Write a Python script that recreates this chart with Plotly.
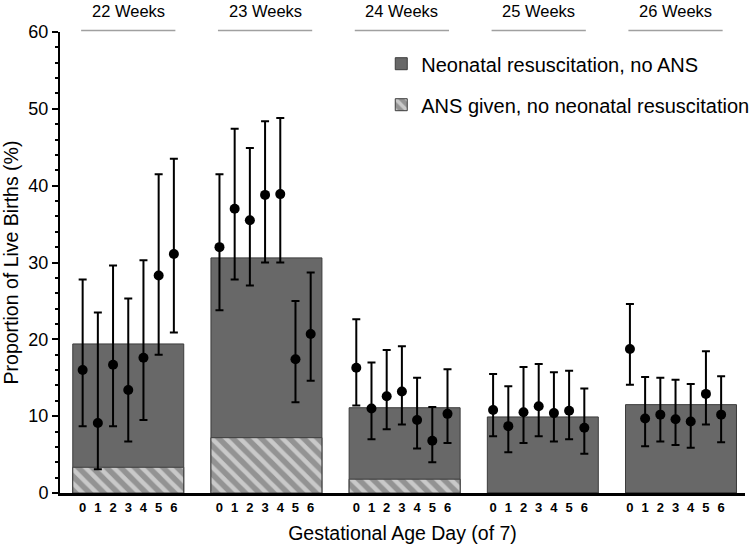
import plotly.graph_objects as go

weeks = ["22 Weeks", "23 Weeks", "24 Weeks", "25 Weeks", "26 Weeks"]
days = [0, 1, 2, 3, 4, 5, 6]

# Bar heights (%)
resus_no_ans = [19.4, 30.6, 11.1, 9.9, 11.5]
ans_no_resus = [3.35, 7.2, 1.8, 0.0, 0.0]

# Point estimates per day and 95% CI bounds (%)
point_22 = [16.0, 9.1, 16.7, 13.4, 17.6, 28.3, 31.1]
low_22 = [8.7, 3.1, 8.7, 6.7, 9.5, 18.0, 20.9]
high_22 = [27.8, 23.5, 29.6, 25.3, 30.3, 41.5, 43.5]

point_23 = [32.0, 37.0, 35.5, 38.8, 38.9, 17.4, 20.7]
low_23 = [23.8, 27.8, 27.0, 30.0, 30.0, 11.8, 14.6]
high_23 = [41.5, 47.4, 44.9, 48.4, 48.8, 25.0, 28.7]

point_24 = [16.3, 11.0, 12.6, 13.2, 9.5, 6.8, 10.3]
low_24 = [11.4, 7.0, 8.3, 8.9, 5.8, 4.0, 6.5]
high_24 = [22.6, 17.0, 18.6, 19.1, 15.0, 11.2, 16.1]

point_25 = [10.8, 8.7, 10.5, 11.3, 10.4, 10.7, 8.5]
low_25 = [7.4, 5.3, 6.5, 7.4, 6.7, 7.0, 5.1]
high_25 = [15.5, 13.9, 16.4, 16.8, 15.7, 15.9, 13.6]

point_26 = [18.75, 9.7, 10.2, 9.6, 9.3, 12.9, 10.2]
low_26 = [14.1, 6.1, 6.7, 6.25, 5.9, 8.9, 6.6]
high_26 = [24.6, 15.1, 15.0, 14.75, 14.2, 18.45, 15.2]

points = [point_22, point_23, point_24, point_25, point_26]
lows = [low_22, low_23, low_24, low_25, low_26]
highs = [high_22, high_23, high_24, high_25, high_26]

# layout constants
GROUP_STEP = 9.0
BAR_STEP = 9.09
BAR_WIDTH = 7.3
FONT = "Arial, Liberation Sans, sans-serif"

bar_x = [3 + g * BAR_STEP for g in range(len(weeks))]

fig = go.Figure()
fig.add_trace(go.Bar(
    x=bar_x, y=resus_no_ans, width=BAR_WIDTH,
    name="Neonatal resuscitation, no ANS", legendgroup="a",
    marker=dict(color="#686868", line=dict(color="#3c3c3c", width=1)),
))
fig.add_trace(go.Bar(
    x=bar_x, y=ans_no_resus, width=BAR_WIDTH,
    name="ANS given, no neonatal resuscitation", legendgroup="b",
    marker=dict(color="#939393", line=dict(color="#3c3c3c", width=1),
                pattern=dict(shape="\\", fgcolor="white", size=10, solidity=0.45)),
))

tickvals, ticktext = [], []
for g in range(len(weeks)):
    xs = [g * GROUP_STEP + d for d in days]
    tickvals += xs
    ticktext += [str(d) for d in days]
    p, lo, hi = points[g], lows[g], highs[g]
    fig.add_trace(go.Scatter(
        x=xs, y=p, mode="markers", showlegend=False,
        marker=dict(color="black", size=10),
        error_y=dict(type="data", symmetric=False,
                     array=[h - v for h, v in zip(hi, p)],
                     arrayminus=[v - l for v, l in zip(p, lo)],
                     color="black", thickness=2, width=4),
    ))
    fig.add_shape(type="line", xref="x", yref="paper",
                  x0=g * GROUP_STEP - 0.1, x1=g * GROUP_STEP + 6.1, y0=1.003, y1=1.003,
                  line=dict(color="#a0a0a0", width=1.5))
    fig.add_annotation(x=g * GROUP_STEP + 3, y=1.0694, xref="x", yref="paper",
                       text=weeks[g], showarrow=False, yanchor="top",
                       font=dict(family=FONT, size=16.5, color="black"))

fig.update_layout(
    width=750, height=546,
    margin=dict(l=60, r=5, t=32, b=53, autoexpand=False),
    barmode="overlay",
    plot_bgcolor="white", paper_bgcolor="white",
    font=dict(family=FONT, color="black"),
    showlegend=True,
    legend=dict(x=0.469, y=0.9735, xanchor="left", yanchor="top",
                font=dict(family=FONT, size=20, color="black"),
                traceorder="grouped", tracegroupgap=12,
                bgcolor="rgba(0,0,0,0)"),
    xaxis=dict(range=[-1.49, 43.57], tickvals=tickvals, ticktext=ticktext,
               automargin=False,
               showline=True, linecolor="black", linewidth=3, ticks="",
               showgrid=False, zeroline=False,
               tickfont=dict(family=FONT, size=13, color="black", weight="bold"),
               title=dict(text="Gestational Age Day (of 7)", standoff=13,
                          font=dict(family=FONT, size=19.5, color="black"))),
    yaxis=dict(range=[0, 60], dtick=10, showline=True, linecolor="black", linewidth=2,
               automargin=False,
               ticks="outside", ticklen=6, tickwidth=1.5, tickcolor="black",
               minor=dict(dtick=2, ticks="outside", ticklen=3, tickwidth=1.5, tickcolor="black"),
               showgrid=False, zeroline=False,
               tickfont=dict(family=FONT, size=18, color="black"),
               title=dict(text="Proportion of Live Births (%)", standoff=8,
                          font=dict(family=FONT, size=19.5, color="black"))),
)

fig.write_html("out.html", config={"displayModeBar": False},
               post_script="document.body.style.margin='0px';document.body.style.overflow='hidden';")
